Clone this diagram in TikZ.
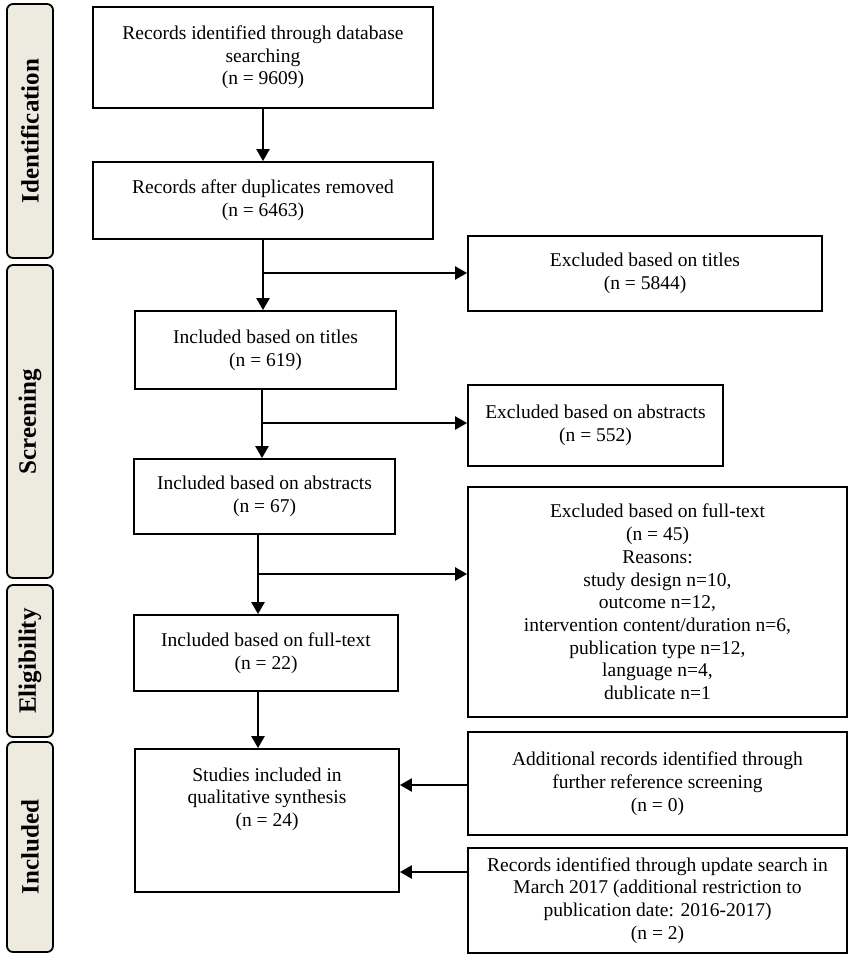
\documentclass[tikz,border=0pt]{standalone}
\usepackage{fontspec}
\setmainfont{Liberation Serif}
\usetikzlibrary{arrows.meta,calc}
\definecolor{phasefill}{HTML}{EDEBE0}
\begin{document}
\begin{tikzpicture}[x=1pt,y=-1pt,
 box/.style={draw=black,line width=1.8pt,rectangle,align=center,inner sep=0pt,
   font=\fontsize{19.5}{22.7}\selectfont},
 txt/.style={align=center,inner sep=0pt,font=\fontsize{19.5}{22.7}\selectfont},
 phase/.style={draw=black,line width=1.8pt,rounded corners=6pt,fill=phasefill,
   rotate=90,inner sep=0pt,minimum height=46pt,font=\fontsize{25}{28}\selectfont\bfseries},
 arr/.style={line width=2.4pt,-{Triangle[length=12pt,width=13pt]}}]
\useasboundingbox (0,0) rectangle (851,959);

% phase labels
\node[phase,minimum width=254pt] (P1) at (30,131) {Identification};
\node[phase,minimum width=313pt] (P2) at (30,421.5) {Screening};
\node[phase,minimum width=152pt] (P3) at (30,661) {Eligibility};
\node[phase,minimum width=210pt] (P4) at (30,847) {Included};

% main column
\node[box,minimum width=340pt,minimum height=101pt] (B1) at (263,57.5)
  {Records identified through database\\searching\\(n = 9609)};
\node[box,minimum width=340pt,minimum height=77pt] (B2) at (263,200.5)
  {Records after duplicates removed\\(n = 6463)};
\node[box,minimum width=261pt,minimum height=78pt] (B3) at (265.5,350)
  {Included based on titles\\(n = 619)};
\node[box,minimum width=261pt,minimum height=75pt] (B4) at (264.5,496.5)
  {Included based on abstracts\\(n = 67)};
\node[box,minimum width=264pt,minimum height=76pt] (B5) at (266,653)
  {Included based on full-text\\(n = 22)};
\node[box,minimum width=264pt,minimum height=143pt] (B6) at (267,820.5) {};
\node[txt] (B6t) at (267,799) {Studies included in\\qualitative synthesis\\(n = 24)};

% right column
\node[box,minimum width=354pt,minimum height=75pt] (E1) at (645,273.5)
  {Excluded based on titles\\(n = 5844)};
\node[box,minimum width=255pt,minimum height=81pt] (E2) at (595.5,425.5)
  {Excluded based on abstracts\\(n = 552)};
\node[box,minimum width=379pt,minimum height=230pt] (E3) at (657.5,602)
  {Excluded based on full-text\\(n = 45)\\Reasons:\\study design n=10,\\outcome n=12,\\intervention content/duration n=6,\\publication type n=12,\\language n=4,\\dublicate n=1};
\node[box,minimum width=379pt,minimum height=103pt] (A1) at (657.5,783.5)
  {Additional records identified through\\further reference screening\\(n = 0)};
\node[box,minimum width=379pt,minimum height=105pt] (A2) at (657.5,900.5)
  {Records identified through update search in\\March 2017 (additional restriction to\\publication date: 2016-2017)\\(n = 2)};

% connectors
\coordinate (j1) at (263,273);
\coordinate (j2) at (262,423);
\coordinate (j3) at (258,574);
\coordinate (k1) at (0,785);
\coordinate (k2) at (0,872);

\draw[arr] (B1.south) -- (B2.north);
\draw[arr] (B2.south) -- (B2.south |- B3.north);
\draw[arr] (j1) -- (j1 -| E1.west);
\draw[arr] (B3.south -| j2) -- (B4.north -| j2);
\draw[arr] (j2) -- (j2 -| E2.west);
\draw[arr] (B4.south -| j3) -- (B5.north -| j3);
\draw[arr] (j3) -- (j3 -| E3.west);
\draw[arr] (B5.south -| j3) -- (B6.north -| j3);
\draw[arr] (A1.west |- k1) -- (B6.east |- k1);
\draw[arr] (A2.west |- k2) -- (B6.east |- k2);
\end{tikzpicture}
\end{document}
